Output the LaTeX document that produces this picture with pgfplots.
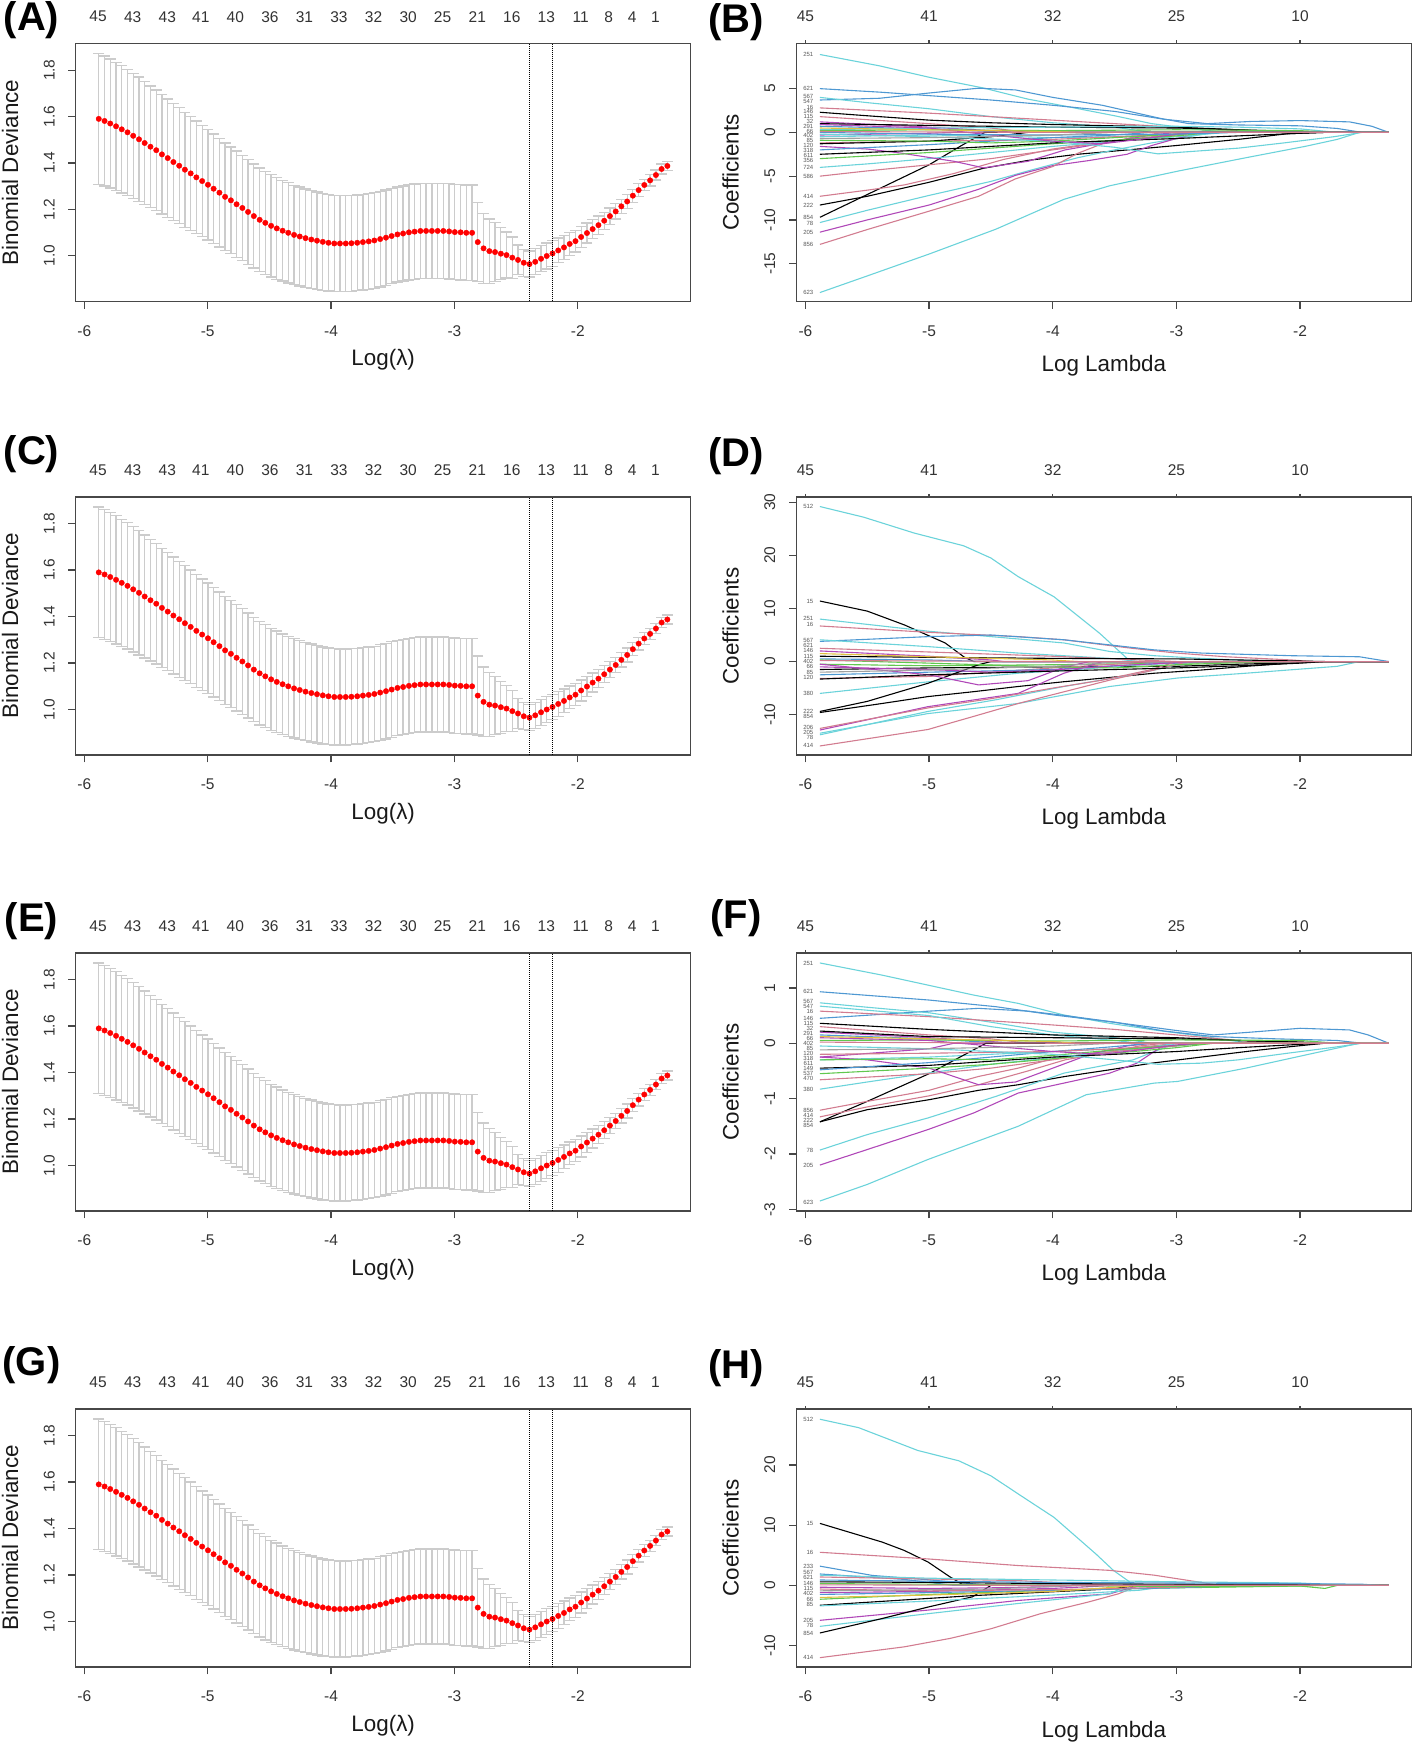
\documentclass[border=0pt]{standalone}
\usepackage{fontspec}
\setmainfont{Liberation Sans}
\usepackage{pgfplots}
\pgfplotsset{compat=1.18}
\usepackage{pgfplotstable}

\definecolor{cK}{HTML}{000000}
\definecolor{cR}{HTML}{D27C90}
\definecolor{cG}{HTML}{61C84F}
\definecolor{cB}{HTML}{4E98D2}
\definecolor{cC}{HTML}{6BD3DA}
\definecolor{cM}{HTML}{B048B8}
\definecolor{cY}{HTML}{E0C040}
\definecolor{cS}{HTML}{A0A0A0}

\newcommand\tickfont{\fontsize{15.5}{18}\selectfont}
\newcommand\labfont{\fontsize{22.4}{26}\selectfont}
\newcommand\letfont{\fontsize{40}{44}\selectfont\bfseries}
\newcommand\coeffont{\fontsize{6}{7}\selectfont}
\tikzset{clab/.style={font=\coeffont, text=black!65, anchor=east, inner sep=0pt}}
\newcommand\coeflabels[1]{%
  \foreach \v/\t in {#1}{\edef\tmp{\noexpand\node[clab] at (axis cs:-5.935,\v) {\t};}\tmp}}

\pgfplotstableread{
x y e
-5.883 1.590 0.282
-5.836 1.581 0.280
-5.790 1.570 0.278
-5.743 1.558 0.276
-5.697 1.545 0.274
-5.650 1.532 0.272
-5.604 1.517 0.270
-5.557 1.502 0.268
-5.511 1.486 0.265
-5.464 1.470 0.262
-5.417 1.455 0.260
-5.371 1.437 0.257
-5.324 1.421 0.255
-5.278 1.404 0.252
-5.231 1.388 0.250
-5.185 1.371 0.248
-5.138 1.355 0.245
-5.092 1.338 0.243
-5.045 1.322 0.240
-4.998 1.306 0.238
-4.952 1.289 0.236
-4.905 1.272 0.234
-4.859 1.254 0.232
-4.812 1.239 0.230
-4.766 1.222 0.229
-4.719 1.206 0.227
-4.673 1.189 0.226
-4.626 1.171 0.224
-4.579 1.155 0.223
-4.533 1.142 0.222
-4.486 1.129 0.220
-4.440 1.118 0.219
-4.393 1.108 0.217
-4.347 1.099 0.216
-4.300 1.090 0.214
-4.254 1.083 0.213
-4.207 1.076 0.212
-4.160 1.070 0.211
-4.114 1.065 0.210
-4.067 1.060 0.209
-4.021 1.056 0.208
-3.974 1.053 0.208
-3.928 1.053 0.207
-3.881 1.053 0.207
-3.835 1.054 0.207
-3.788 1.056 0.206
-3.742 1.059 0.206
-3.695 1.062 0.206
-3.649 1.066 0.206
-3.602 1.072 0.206
-3.555 1.078 0.206
-3.509 1.085 0.206
-3.462 1.092 0.205
-3.416 1.096 0.205
-3.369 1.101 0.205
-3.323 1.104 0.205
-3.276 1.107 0.205
-3.230 1.107 0.205
-3.183 1.107 0.205
-3.136 1.107 0.205
-3.090 1.107 0.205
-3.043 1.105 0.205
-2.997 1.102 0.205
-2.950 1.101 0.205
-2.904 1.099 0.206
-2.857 1.099 0.206
-2.811 1.059 0.170
-2.764 1.032 0.150
-2.717 1.020 0.138
-2.671 1.016 0.126
-2.624 1.009 0.112
-2.578 1.003 0.099
-2.531 0.992 0.089
-2.485 0.982 0.064
-2.438 0.970 0.058
-2.392 0.964 0.056
-2.345 0.974 0.056
-2.298 0.987 0.056
-2.252 0.999 0.056
-2.205 1.010 0.055
-2.159 1.023 0.053
-2.112 1.036 0.051
-2.066 1.051 0.049
-2.019 1.063 0.047
-1.973 1.081 0.045
-1.926 1.098 0.043
-1.880 1.115 0.041
-1.833 1.132 0.039
-1.786 1.151 0.037
-1.740 1.171 0.035
-1.693 1.191 0.033
-1.647 1.213 0.031
-1.600 1.234 0.030
-1.554 1.259 0.028
-1.507 1.283 0.027
-1.461 1.305 0.025
-1.414 1.325 0.024
-1.367 1.348 0.022
-1.321 1.374 0.021
-1.274 1.387 0.019
}\cvtab

\pgfplotsset{
  base/.style={scale only axis, width=615pt, height=258pt, clip mode=individual,
    axis line style={black!72, line width=1.3pt},
    tick style={black!72, line width=1.3pt},
    tick align=outside, major tick length=7.3pt,
    xtick pos=bottom, ytick pos=left,
    /pgf/number format/assume math mode=true,
    ticklabel style={font=\tickfont, text=black!80},
    xticklabel style={anchor=center},
    yticklabel style={rotate=90, anchor=center},
    xticklabel shift=22.2pt, yticklabel shift=19.2pt,
    xtick={-6,-5,-4,-3,-2}, xticklabels={-6,-5,-4,-3,-2},
    every axis y label/.style={at={(axis description cs:0,0.5)}, xshift=-65.7pt, rotate=90, anchor=center, font=\labfont, text=black!90},
  },
  cv/.style={base, xmin=-6.07, xmax=-1.085, ymin=0.803, ymax=1.915,
    ytick={1.0,1.2,1.4,1.6,1.8}, yticklabels={1.0,1.2,1.4,1.6,1.8},
    xlabel={Log(λ)}, ylabel={Binomial Deviance},
    every axis x label/.style={at={(axis description cs:0.5,0)}, anchor=base, yshift=-64.3pt, font=\labfont, text=black!90}},
  co/.style={base, xmin=-6.073, xmax=-1.10, ylabel={Coefficients}, xlabel={Log Lambda},
    every axis x label/.style={at={(axis description cs:0.5,0)}, anchor=base, yshift=-70pt, font=\labfont, text=black!90},
    every axis plot/.append style={line width=1.1pt}},
  top/.style={scale only axis, width=615pt, height=258pt, ymin=0, ymax=1,
    axis x line*=top, axis line style={draw=none}, hide y axis, tick align=outside,
    tick style={black!72, line width=1.3pt},
    ticklabel style={font=\tickfont, text=black!80}, xticklabel style={anchor=center},
    /pgf/number format/assume math mode=true},
  cvtop/.style={top, xmin=-6.07, xmax=-1.085, major tick length=0pt, xticklabel shift=26.8pt,
    xtick={-5.889,-5.608,-5.327,-5.056,-4.776,-4.496,-4.216,-3.936,-3.656,-3.375,-3.096,-2.815,-2.535,-2.255,-1.976,-1.750,-1.560,-1.370},
    xticklabels={45,43,43,41,40,36,31,33,32,30,25,21,16,13,11,8,4,1}},
  cotop/.style={top, xmin=-6.073, xmax=-1.10, major tick length=3pt, xticklabel shift=24pt,
    xtick={-6,-5,-4,-3,-2}, xticklabels={45,41,32,25,10}},
}

\newcommand\cvcontent{%
  \addplot[draw=none, mark=none, forget plot, error bars/.cd, y dir=both, y explicit, error mark=none,
    error bar style={draw=gray!40, line width=1.3pt}]
    table[x=x, y=y, y error=e] {\cvtab};
  \addplot[only marks, mark=-, mark size=5.5pt, mark options={draw=gray!40, line width=1.3pt}, forget plot]
    table[x=x, y expr=\thisrow{y}+\thisrow{e}] {\cvtab};
  \addplot[only marks, mark=-, mark size=5.5pt, mark options={draw=gray!40, line width=1.3pt}, forget plot]
    table[x=x, y expr=\thisrow{y}-\thisrow{e}] {\cvtab};
  \addplot[only marks, mark=*, mark size=2.7pt, mark options={draw=red, fill=red}] table[x=x, y=y] {\cvtab};
  \addplot[black, densely dotted, line width=1pt] coordinates {(-2.392,0.803) (-2.392,1.915)};
  \addplot[black, densely dotted, line width=1pt] coordinates {(-2.205,0.803) (-2.205,1.915)};
}

\begin{document}
\begin{tikzpicture}
\useasboundingbox (0pt,0pt) rectangle (1412pt,1747pt);

% ---------------- left column: cross-validation curves ----------------
\begin{axis}[cv, at={(75.7pt,1445.5pt)}, anchor=south west]\cvcontent\end{axis}
\begin{axis}[cvtop, at={(75.7pt,1445.5pt)}, anchor=south west]\end{axis}
\begin{axis}[cv, at={(75.7pt,992pt)}, anchor=south west]\cvcontent\end{axis}
\begin{axis}[cvtop, at={(75.7pt,992pt)}, anchor=south west]\end{axis}
\begin{axis}[cv, at={(75.7pt,536pt)}, anchor=south west]\cvcontent\end{axis}
\begin{axis}[cvtop, at={(75.7pt,536pt)}, anchor=south west]\end{axis}
\begin{axis}[cv, at={(75.7pt,80pt)}, anchor=south west]\cvcontent\end{axis}
\begin{axis}[cvtop, at={(75.7pt,80pt)}, anchor=south west]\end{axis}

% ---------------- (B) ----------------
\begin{axis}[co, at={(796.4pt,1445.5pt)}, anchor=south west, ymin=-19.32, ymax=10.16,
  ytick={-15,-10,-5,0,5}, yticklabels={-15,-10,-5,0,5}]
\addplot[cC] coordinates {(-5.883,8.9) (-5.4,7.6) (-5.0,6.3) (-4.57,5.1) (-4.2,3.8) (-3.9,3.0) (-3.5,1.9) (-3.2,1.0) (-2.8,0.3) (-2.6,0) (-1.283,0)};
\addplot[cB] coordinates {(-5.883,5.0) (-5.4,4.6) (-5.0,4.2) (-4.5,3.7) (-4.0,3.1) (-3.5,2.4) (-3.1,1.5) (-2.75,1.0) (-2.4,1.25) (-2.0,1.35) (-1.6,1.2) (-1.42,0.7) (-1.283,0)};
\addplot[cB] coordinates {(-5.883,3.7) (-5.4,3.9) (-5.0,4.5) (-4.6,5.05) (-4.3,4.85) (-4.0,4.0) (-3.6,3.1) (-3.13,1.6) (-2.9,1.0) (-2.5,0.85) (-2.0,0.75) (-1.7,0.45) (-1.5,0) (-1.283,0)};
\addplot[cC] coordinates {(-5.883,4.0) (-5.5,3.4) (-5.0,2.7) (-4.5,1.8) (-4.0,1.1) (-3.5,0.6) (-3.2,0) (-1.283,0)};
\addplot[cR] coordinates {(-5.883,2.8) (-5.0,2.2) (-4.0,1.4) (-3.5,1.0) (-3.0,0.6) (-2.5,0.2) (-2.2,0) (-1.283,0)};
\addplot[cK] coordinates {(-5.883,2.3) (-5.5,1.9) (-5.0,1.4) (-4.5,1.1) (-4.0,0.9) (-3.0,0.6) (-2.5,0.3) (-2.0,0) (-1.283,0)};
\addplot[cR] coordinates {(-5.883,1.8) (-5.0,1.0) (-4.5,0.5) (-4.2,0) (-1.283,0)};
\addplot[cM] coordinates {(-5.883,1.2) (-5.0,0.6) (-4.5,0.2) (-4.3,0) (-1.283,0)};
\addplot[cK] coordinates {(-5.883,1.0) (-5.0,0.8) (-4.0,0.6) (-3.0,0.5) (-2.5,0.3) (-2.0,0.1) (-1.8,0) (-1.283,0)};
\addplot[cB] coordinates {(-5.883,0.7) (-5.0,0.4) (-4.5,0.1) (-4.4,0) (-1.283,0)};
\addplot[cC] coordinates {(-5.883,0.3) (-5.0,0.5) (-4.0,0.6) (-3.0,0.7) (-2.5,0.6) (-2.0,0.4) (-1.7,0) (-1.283,0)};
\addplot[cG] coordinates {(-5.883,0.2) (-5.0,0.3) (-4.0,0.2) (-3.0,0.3) (-2.0,0.2) (-1.7,0) (-1.283,0)};
\addplot[cM] coordinates {(-5.883,-0.3) (-5.0,-0.1) (-4.8,0) (-1.283,0)};
\addplot[cC] coordinates {(-5.883,-0.5) (-5.0,-0.3) (-4.5,-0.4) (-4.0,-0.6) (-3.5,-0.5) (-3.0,-0.2) (-2.8,0) (-1.283,0)};
\addplot[cK] coordinates {(-5.883,-9.7) (-5.5,-7.1) (-5.0,-3.7) (-4.75,-1.6) (-4.55,0) (-1.283,0)};
\addplot[cK] coordinates {(-5.883,-8.3) (-5.5,-7.3) (-5.0,-5.7) (-4.56,-4.1) (-4.2,-3.2) (-3.8,-2.5) (-3.37,-1.97) (-3.0,-1.5) (-2.5,-0.8) (-2.1,-0.15) (-1.8,0) (-1.283,0)};
\addplot[cR] coordinates {(-5.883,-7.3) (-5.5,-6.6) (-5.2,-6.0) (-4.8,-4.7) (-4.4,-3.1) (-4.0,-1.9) (-3.6,-1.1) (-3.2,-0.5) (-2.9,0) (-1.283,0)};
\addplot[cC] coordinates {(-5.883,-10.3) (-5.5,-8.9) (-5.0,-7.2) (-4.5,-5.6) (-4.2,-4.4) (-3.8,-2.9) (-3.5,-2.0) (-3.2,-1.2) (-2.9,-0.5) (-2.7,0) (-1.283,0)};
\addplot[cM] coordinates {(-5.883,-11.4) (-5.5,-10.0) (-5.0,-8.3) (-4.6,-6.5) (-4.3,-4.9) (-4.0,-3.8) (-3.7,-3.2) (-3.4,-2.5) (-3.2,-1.5) (-3.0,-0.7) (-2.8,0) (-1.283,0)};
\addplot[cR] coordinates {(-5.883,-12.8) (-5.5,-11.1) (-5.0,-9.0) (-4.6,-7.3) (-4.3,-5.3) (-4.0,-3.9) (-3.8,-2.4) (-3.6,-1.3) (-3.3,-0.4) (-3.1,0) (-1.283,0)};
\addplot[cC] coordinates {(-5.883,-18.3) (-5.5,-16.4) (-5.0,-13.9) (-4.46,-11.06) (-3.91,-7.65) (-3.54,-6.1) (-2.99,-4.43) (-2.44,-2.9) (-1.96,-1.6) (-1.7,-0.8) (-1.52,0) (-1.283,0)};
\addplot[cR] coordinates {(-5.883,-5.0) (-5.5,-4.4) (-5.0,-3.7) (-4.5,-3.0) (-4.0,-2.0) (-3.5,-1.0) (-3.0,-0.3) (-2.8,0) (-1.283,0)};
\addplot[cC] coordinates {(-5.883,-4.0) (-5.5,-3.6) (-5.0,-3.0) (-4.5,-2.3) (-4.0,-1.6) (-3.5,-1.0) (-3.0,-0.5) (-2.6,0) (-1.283,0)};
\addplot[cM] coordinates {(-5.883,-1.6) (-5.5,-1.9) (-5.235,-2.35) (-4.8,-3.3) (-4.56,-4.05) (-4.2,-3.3) (-3.9,-2.0) (-3.5,-1.0) (-3.2,-0.3) (-3.0,0) (-1.283,0)};
\addplot[cG] coordinates {(-5.883,-3.0) (-5.0,-2.3) (-4.5,-1.8) (-4.0,-1.3) (-3.5,-0.9) (-3.0,-0.4) (-2.7,0) (-1.283,0)};
\addplot[cK] coordinates {(-5.883,-2.5) (-5.0,-2.0) (-4.0,-1.2) (-3.0,-0.7) (-2.5,-0.4) (-2.0,-0.1) (-1.8,0) (-1.283,0)};
\addplot[cB] coordinates {(-5.883,-2.0) (-5.0,-1.4) (-4.5,-1.0) (-4.0,-0.6) (-3.5,-0.3) (-3.2,0) (-1.283,0)};
\addplot[cR] coordinates {(-5.883,-1.2) (-5.0,-1.0) (-4.0,-0.8) (-3.5,-0.5) (-3.0,-0.2) (-2.8,0) (-1.283,0)};
\addplot[cK] coordinates {(-5.883,-1.3) (-5.0,-1.0) (-4.5,-0.5) (-4.2,0) (-1.283,0)};
\addplot[cG] coordinates {(-5.883,-0.9) (-5.0,-1.0) (-4.5,-1.2) (-4.0,-1.0) (-3.5,-0.6) (-3.0,-0.2) (-2.7,0) (-1.283,0)};
\addplot[cC] coordinates {(-5.883,-0.2) (-5.0,-0.5) (-4.0,-1.0) (-3.5,-1.7) (-3.15,-2.45) (-2.5,-1.8) (-2.13,-1.2) (-1.73,-0.5) (-1.5,0) (-1.283,0)};
\addplot[cM] coordinates {(-5.883,0.9) (-5.0,0.5) (-4.5,-0.3) (-4.0,-1.0) (-3.6,-1.3) (-3.3,-0.8) (-3.0,-0.2) (-2.8,0) (-1.283,0)};
\addplot[cB] coordinates {(-5.883,0.0) (-5.0,-0.2) (-4.0,-0.3) (-3.0,-0.2) (-2.5,0) (-1.283,0)};
\addplot[cY] coordinates {(-5.883,0.5) (-5.0,0.3) (-4.0,0.1) (-3.8,0) (-1.283,0)};
\addplot[cS] coordinates {(-5.883,-0.7) (-5.0,-0.6) (-4.0,-0.3) (-3.5,0) (-1.283,0)};
\addplot[cR] coordinates {(-5.883,0.1) (-5.0,0.05) (-4.0,0) (-1.283,0)};
\coeflabels{8.9/251,5.0/621,4.1/567,3.55/547,2.9/16,2.35/146,1.8/115,1.25/32,0.7/291,0.15/66,-0.4/402,-0.95/85,-1.5/120,-2.05/318,-2.6/611,-3.15/356,-4.0/724,-5.0/586,-7.3/414,-8.3/222,-9.75/854,-10.35/78,-11.4/205,-12.8/856,-18.3/623}
\end{axis}
\begin{axis}[cotop, at={(796.4pt,1445.5pt)}, anchor=south west]\end{axis}

% ---------------- (D) ----------------
\begin{axis}[co, at={(796.4pt,992pt)}, anchor=south west, ymin=-17.6, ymax=31.0,
  ytick={-10,0,10,20,30}, yticklabels={-10,0,10,20,30}]
\addplot[cC] coordinates {(-5.883,29.2) (-5.53,27.2) (-5.12,24.2) (-4.72,21.8) (-4.5,19.5) (-4.28,16.0) (-3.99,12.2) (-3.62,5.3) (-3.4,0.6) (-3.36,0) (-1.283,0)};
\addplot[cK] coordinates {(-5.883,11.4) (-5.5,9.5) (-5.2,6.9) (-4.87,3.5) (-4.72,0.9) (-4.64,0) (-1.283,0)};
\addplot[cC] coordinates {(-5.883,8.0) (-5.0,5.7) (-4.5,4.7) (-3.91,3.5) (-3.54,1.9) (-3.18,1.1) (-2.8,0.6) (-2.4,0.2) (-2.2,0) (-1.283,0)};
\addplot[cR] coordinates {(-5.883,6.7) (-5.0,5.5) (-4.28,4.7) (-3.91,4.1) (-3.36,2.5) (-3.0,1.6) (-2.6,0.9) (-2.07,0.3) (-1.9,0) (-1.283,0)};
\addplot[cB] coordinates {(-5.883,3.8) (-5.0,4.7) (-4.5,5.0) (-3.91,4.1) (-3.18,2.2) (-2.8,1.6) (-2.07,1.1) (-1.52,0.9) (-1.283,0)};
\addplot[cC] coordinates {(-5.883,4.1) (-5.0,2.8) (-4.28,1.6) (-3.54,0.6) (-3.3,0) (-1.283,0)};
\addplot[cR] coordinates {(-5.883,2.5) (-5.0,1.8) (-4.0,1.0) (-3.5,0.5) (-3.0,0) (-1.283,0)};
\addplot[cM] coordinates {(-5.883,2.0) (-5.0,1.0) (-4.5,0.3) (-4.4,0) (-1.283,0)};
\addplot[cK] coordinates {(-5.883,1.0) (-5.0,0.8) (-4.0,0.6) (-3.0,0.5) (-2.5,0.3) (-2.0,0.1) (-1.8,0) (-1.283,0)};
\addplot[cB] coordinates {(-5.883,0.5) (-5.0,0.3) (-4.5,0) (-1.283,0)};
\addplot[cG] coordinates {(-5.883,-0.5) (-5.0,-0.8) (-4.0,-0.6) (-3.0,-0.3) (-2.0,-0.1) (-1.7,0) (-1.283,0)};
\addplot[cK] coordinates {(-5.883,-1.5) (-5.0,-1.2) (-4.0,-1.0) (-3.0,-0.9) (-2.5,-0.5) (-2.0,-0.2) (-1.7,0) (-1.283,0)};
\addplot[cR] coordinates {(-5.883,-3.2) (-5.0,-2.8) (-4.5,-2.0) (-4.0,-1.2) (-3.5,-0.5) (-3.2,0) (-1.283,0)};
\addplot[cB] coordinates {(-5.883,-2.5) (-5.0,-2.0) (-4.0,-1.5) (-3.5,-0.8) (-3.0,-0.3) (-2.7,0) (-1.283,0)};
\addplot[cC] coordinates {(-5.883,-6.0) (-5.0,-3.8) (-4.28,-2.2) (-3.8,-1.5) (-3.3,-0.6) (-3.0,0) (-1.283,0)};
\addplot[cK] coordinates {(-5.883,-9.6) (-5.38,-7.9) (-5.01,-6.6) (-4.65,-5.7) (-4.28,-4.7) (-3.91,-3.8) (-3.54,-3.0) (-3.18,-2.2) (-2.8,-1.6) (-2.44,-0.9) (-2.07,-0.3) (-1.9,0) (-1.283,0)};
\addplot[cK] coordinates {(-5.883,-9.4) (-5.5,-7.5) (-5.01,-4.1) (-4.6,-0.6) (-4.5,0) (-1.283,0)};
\addplot[cM] coordinates {(-5.883,-12.9) (-5.01,-8.5) (-4.28,-6.0) (-3.91,-2.2) (-3.72,-0.9) (-3.6,0) (-1.283,0)};
\addplot[cC] coordinates {(-5.883,-13.8) (-5.01,-9.4) (-4.46,-7.2) (-3.91,-4.7) (-3.36,-2.5) (-3.1,-1.2) (-2.9,0) (-1.283,0)};
\addplot[cC] coordinates {(-5.883,-13.5) (-5.01,-9.8) (-4.28,-7.9) (-3.54,-4.7) (-2.99,-3.1) (-2.44,-2.2) (-1.7,-0.9) (-1.52,0) (-1.283,0)};
\addplot[cR] coordinates {(-5.883,-15.9) (-5.01,-12.8) (-4.65,-10.4) (-4.28,-7.9) (-3.91,-5.7) (-3.54,-3.5) (-3.18,-1.6) (-2.9,0) (-1.283,0)};
\addplot[cM] coordinates {(-5.883,-0.5) (-5.0,-2.5) (-4.6,-4.4) (-4.2,-3.6) (-3.9,-1.0) (-3.7,0) (-1.283,0)};
\addplot[cR] coordinates {(-5.883,-12.6) (-5.0,-8.7) (-4.5,-7.0) (-4.0,-5.0) (-3.6,-3.5) (-3.2,-1.5) (-3.0,0) (-1.283,0)};
\addplot[cG] coordinates {(-5.883,0.3) (-5.0,-0.3) (-4.0,-1.0) (-3.5,-1.2) (-3.0,-0.6) (-2.5,-0.2) (-2.2,0) (-1.283,0)};
\addplot[cM] coordinates {(-5.883,-1.0) (-5.0,-1.5) (-4.5,-2.0) (-4.0,-1.6) (-3.5,-0.8) (-3.0,-0.2) (-2.8,0) (-1.283,0)};
\addplot[cY] coordinates {(-5.883,1.5) (-5.0,0.9) (-4.0,0.3) (-3.8,0) (-1.283,0)};
\addplot[cS] coordinates {(-5.883,-2.0) (-5.0,-1.6) (-4.0,-0.9) (-3.4,0) (-1.283,0)};
\addplot[cK] coordinates {(-5.883,-3.3) (-5.0,-2.5) (-4.0,-1.8) (-3.0,-1.2) (-2.5,-0.8) (-2.0,-0.3) (-1.8,0) (-1.283,0)};
\addplot[cR] coordinates {(-5.883,0.2) (-4.0,0) (-1.283,0)};
\coeflabels{29.2/512,11.4/15,8.1/251,7.0/16,4.0/567,3.0/621,2.0/146,1.0/115,0/402,-1.0/66,-2.0/85,-3.0/120,-6.0/380,-9.4/222,-10.4/854,-12.5/206,-13.4/205,-14.3/78,-15.8/414}
\end{axis}
\begin{axis}[cotop, at={(796.4pt,992pt)}, anchor=south west]\end{axis}

% ---------------- (F) ----------------
\begin{axis}[co, at={(796.4pt,536pt)}, anchor=south west, ymin=-3.03, ymax=1.63,
  ytick={-3,-2,-1,0,1}, yticklabels={-3,-2,-1,0,1}]
\addplot[cC] coordinates {(-5.883,1.45) (-5.38,1.23) (-5.01,1.05) (-4.64,0.87) (-4.28,0.72) (-3.91,0.51) (-3.54,0.36) (-3.18,0.24) (-2.8,0.13) (-2.6,0.06) (-2.4,0) (-1.283,0)};
\addplot[cB] coordinates {(-5.883,0.93) (-5.0,0.78) (-4.46,0.66) (-3.99,0.51) (-3.54,0.39) (-3.0,0.23) (-2.7,0.15) (-2.4,0.2) (-2.0,0.27) (-1.6,0.24) (-1.45,0.15) (-1.283,0)};
\addplot[cB] coordinates {(-5.883,0.45) (-5.4,0.52) (-5.0,0.58) (-4.6,0.63) (-4.2,0.58) (-3.9,0.5) (-3.5,0.38) (-3.1,0.22) (-2.7,0.12) (-2.2,0.08) (-1.7,0.05) (-1.5,0) (-1.283,0)};
\addplot[cC] coordinates {(-5.883,0.73) (-5.5,0.65) (-5.0,0.55) (-4.5,0.38) (-4.0,0.2) (-3.5,0.1) (-3.2,0) (-1.283,0)};
\addplot[cR] coordinates {(-5.883,0.58) (-5.0,0.48) (-4.0,0.33) (-3.5,0.25) (-3.0,0.15) (-2.5,0.05) (-2.2,0) (-1.283,0)};
\addplot[cC] coordinates {(-5.883,0.67) (-5.0,0.5) (-4.5,0.3) (-4.0,0.15) (-3.5,0.05) (-3.3,0) (-1.283,0)};
\addplot[cK] coordinates {(-5.883,0.36) (-5.0,0.25) (-4.0,0.15) (-3.0,0.1) (-2.5,0.05) (-2.0,0.02) (-1.8,0) (-1.283,0)};
\addplot[cR] coordinates {(-5.883,0.3) (-5.0,0.15) (-4.5,0.08) (-4.2,0) (-1.283,0)};
\addplot[cM] coordinates {(-5.883,0.2) (-5.0,0.1) (-4.5,0.03) (-4.3,0) (-1.283,0)};
\addplot[cK] coordinates {(-5.883,0.22) (-5.0,0.12) (-4.0,0.1) (-3.0,0.08) (-2.0,0.02) (-1.8,0) (-1.283,0)};
\addplot[cB] coordinates {(-5.883,0.15) (-5.0,0.08) (-4.4,0) (-1.283,0)};
\addplot[cG] coordinates {(-5.883,0.05) (-5.0,0.06) (-4.0,0.04) (-3.0,0.06) (-2.0,0.05) (-1.7,0) (-1.283,0)};
\addplot[cM] coordinates {(-5.883,-0.25) (-5.0,-0.1) (-4.8,0) (-1.283,0)};
\addplot[cC] coordinates {(-5.883,-0.3) (-5.0,-0.25) (-4.5,-0.2) (-4.0,-0.15) (-3.5,-0.1) (-3.0,-0.05) (-2.8,0) (-1.283,0)};
\addplot[cK] coordinates {(-5.883,-1.42) (-5.5,-1.05) (-5.0,-0.55) (-4.75,-0.25) (-4.54,0) (-1.283,0)};
\addplot[cK] coordinates {(-5.883,-1.42) (-5.5,-1.2) (-5.0,-1.02) (-4.6,-0.85) (-4.28,-0.75) (-3.9,-0.6) (-3.54,-0.48) (-3.2,-0.36) (-2.8,-0.25) (-2.4,-0.14) (-2.07,-0.06) (-1.8,0) (-1.283,0)};
\addplot[cR] coordinates {(-5.883,-1.21) (-5.5,-1.05) (-5.0,-0.85) (-4.6,-0.6) (-4.28,-0.45) (-4.0,-0.28) (-3.6,-0.15) (-3.2,-0.05) (-3.0,0) (-1.283,0)};
\addplot[cR] coordinates {(-5.883,-1.33) (-5.5,-1.15) (-5.0,-0.95) (-4.6,-0.75) (-4.2,-0.5) (-3.9,-0.3) (-3.6,-0.18) (-3.3,-0.05) (-3.1,0) (-1.283,0)};
\addplot[cC] coordinates {(-5.883,-1.93) (-5.5,-1.65) (-5.01,-1.35) (-4.46,-0.96) (-3.91,-0.54) (-3.35,-0.3) (-3.18,-0.15) (-3.0,0) (-1.283,0)};
\addplot[cM] coordinates {(-5.883,-2.2) (-5.5,-1.92) (-5.01,-1.56) (-4.64,-1.26) (-4.28,-0.9) (-3.91,-0.72) (-3.54,-0.54) (-3.32,-0.36) (-3.18,-0.15) (-3.07,0) (-1.283,0)};
\addplot[cC] coordinates {(-5.883,-2.85) (-5.5,-2.55) (-5.01,-2.1) (-4.28,-1.5) (-3.73,-0.93) (-3.18,-0.72) (-2.99,-0.69) (-2.44,-0.45) (-1.89,-0.18) (-1.52,0) (-1.283,0)};
\addplot[cC] coordinates {(-5.883,-0.83) (-5.5,-0.7) (-5.01,-0.54) (-4.5,-0.38) (-3.91,-0.24) (-3.5,-0.15) (-3.18,-0.06) (-3.0,0) (-1.283,0)};
\addplot[cR] coordinates {(-5.883,-0.66) (-5.0,-0.55) (-4.5,-0.45) (-4.0,-0.3) (-3.5,-0.15) (-3.0,-0.05) (-2.8,0) (-1.283,0)};
\addplot[cM] coordinates {(-5.883,-0.25) (-5.5,-0.3) (-5.0,-0.45) (-4.6,-0.75) (-4.3,-0.7) (-4.0,-0.45) (-3.7,-0.2) (-3.4,-0.05) (-3.2,0) (-1.283,0)};
\addplot[cG] coordinates {(-5.883,-0.55) (-5.0,-0.45) (-4.5,-0.38) (-4.0,-0.28) (-3.5,-0.18) (-3.0,-0.08) (-2.7,0) (-1.283,0)};
\addplot[cK] coordinates {(-5.883,-0.45) (-5.0,-0.4) (-4.0,-0.25) (-3.0,-0.15) (-2.5,-0.08) (-2.0,-0.02) (-1.8,0) (-1.283,0)};
\addplot[cB] coordinates {(-5.883,-0.48) (-5.0,-0.35) (-4.5,-0.25) (-4.0,-0.15) (-3.5,-0.06) (-3.2,0) (-1.283,0)};
\addplot[cR] coordinates {(-5.883,-0.2) (-5.0,-0.18) (-4.0,-0.15) (-3.5,-0.1) (-3.0,-0.04) (-2.8,0) (-1.283,0)};
\addplot[cG] coordinates {(-5.883,-0.3) (-5.0,-0.28) (-4.5,-0.3) (-4.0,-0.22) (-3.5,-0.12) (-3.0,-0.04) (-2.7,0) (-1.283,0)};
\addplot[cC] coordinates {(-5.883,-0.05) (-5.0,-0.1) (-4.0,-0.2) (-3.5,-0.3) (-3.15,-0.38) (-2.8,-0.36) (-2.5,-0.3) (-2.1,-0.18) (-1.75,-0.08) (-1.5,0) (-1.283,0)};
\addplot[cM] coordinates {(-5.883,0.1) (-5.0,0.05) (-4.5,-0.05) (-4.0,-0.15) (-3.6,-0.2) (-3.3,-0.12) (-3.0,-0.03) (-2.8,0) (-1.283,0)};
\addplot[cY] coordinates {(-5.883,0.12) (-5.0,0.08) (-4.0,0.03) (-3.8,0) (-1.283,0)};
\addplot[cS] coordinates {(-5.883,-0.12) (-5.0,-0.1) (-4.0,-0.05) (-3.5,0) (-1.283,0)};
\addplot[cR] coordinates {(-5.883,0.02) (-4.0,0) (-1.283,0)};
\coeflabels{1.45/251,0.93/621,0.76/567,0.67/547,0.58/16,0.45/146,0.36/115,0.27/32,0.18/291,0.09/66,0/402,-0.09/85,-0.18/120,-0.27/318,-0.36/611,-0.45/149,-0.54/537,-0.63/470,-0.84/380,-1.22/856,-1.31/414,-1.40/222,-1.49/854,-1.93/78,-2.21/205,-2.87/623}
\end{axis}
\begin{axis}[cotop, at={(796.4pt,536pt)}, anchor=south west]\end{axis}

% ---------------- (H) ----------------
\begin{axis}[co, at={(796.4pt,80pt)}, anchor=south west, ymin=-13.55, ymax=29.3,
  ytick={-10,0,10,20}, yticklabels={-10,0,10,20}]
\addplot[cC] coordinates {(-5.883,27.6) (-5.57,26.2) (-5.09,22.4) (-4.76,20.7) (-4.5,18.2) (-4.28,15.2) (-3.99,11.3) (-3.65,5.2) (-3.51,2.5) (-3.38,0.6) (-3.36,0) (-1.283,0)};
\addplot[cK] coordinates {(-5.883,10.3) (-5.38,7.2) (-5.2,5.8) (-5.01,3.9) (-4.83,1.4) (-4.76,0.55) (-4.72,0) (-1.283,0)};
\addplot[cR] coordinates {(-5.883,5.5) (-5.01,4.4) (-4.28,3.3) (-3.54,2.5) (-3.18,1.7) (-2.99,1.1) (-2.8,0.5) (-2.65,0) (-1.283,0)};
\addplot[cB] coordinates {(-5.883,3.2) (-5.46,1.66) (-5.01,0.94) (-4.5,0) (-1.283,0)};
\addplot[cB] coordinates {(-5.883,1.9) (-5.2,1.0) (-4.8,0) (-1.283,0)};
\addplot[cR] coordinates {(-5.883,1.4) (-4.28,0.8) (-3.5,0) (-1.283,0)};
\addplot[cC] coordinates {(-5.883,1.7) (-5.0,1.2) (-4.0,0.9) (-3.0,0.6) (-2.0,0.4) (-1.6,0) (-1.283,0)};
\addplot[cM] coordinates {(-5.883,-5.8) (-5.01,-4.1) (-4.28,-2.5) (-3.54,-1.4) (-3.3,0) (-1.283,0)};
\addplot[cC] coordinates {(-5.883,-6.8) (-5.01,-4.7) (-4.28,-3.0) (-3.54,-1.4) (-3.4,0) (-1.283,0)};
\addplot[cK] coordinates {(-5.883,-7.9) (-5.38,-5.5) (-5.01,-3.6) (-4.65,-1.9) (-4.5,0) (-1.283,0)};
\addplot[cR] coordinates {(-5.883,-12.0) (-5.2,-10.2) (-4.83,-8.8) (-4.5,-7.2) (-4.1,-4.7) (-3.72,-2.8) (-3.47,-1.4) (-3.3,0) (-1.283,0)};
\addplot[cK] coordinates {(-5.883,-3.3) (-4.65,-1.7) (-3.54,-0.6) (-3.3,0) (-1.283,0)};
\addplot[cC] coordinates {(-5.883,-3.4) (-5.0,-2.6) (-4.0,-1.6) (-3.3,-0.8) (-3.0,0) (-1.283,0)};
\addplot[cG] coordinates {(-5.883,-2.3) (-5.0,-1.5) (-4.0,-0.8) (-3.0,-0.4) (-2.0,-0.1) (-1.8,-0.5) (-1.7,0) (-1.283,0)};
\addplot[cM] coordinates {(-5.883,-1.2) (-5.0,-1.0) (-4.0,-0.5) (-3.5,0) (-1.283,0)};
\addplot[cB] coordinates {(-5.883,-1.5) (-5.0,-1.2) (-4.0,-0.8) (-3.0,-0.4) (-2.5,0) (-1.283,0)};
\addplot[cK] coordinates {(-5.883,0.6) (-5.0,0.5) (-4.0,0.3) (-3.0,0.2) (-2.0,0.1) (-1.8,0) (-1.283,0)};
\addplot[cB] coordinates {(-5.883,0.9) (-5.0,0.7) (-4.0,0.5) (-3.0,0.4) (-2.0,0.3) (-1.5,0.2) (-1.35,0) (-1.283,0)};
\addplot[cR] coordinates {(-5.883,-0.6) (-5.0,-0.9) (-4.0,-0.7) (-3.0,-0.3) (-2.5,0) (-1.283,0)};
\addplot[cM] coordinates {(-5.883,-0.3) (-5.0,-0.5) (-4.5,-0.4) (-4.0,-0.2) (-3.8,0) (-1.283,0)};
\addplot[cG] coordinates {(-5.883,0.3) (-5.0,0.2) (-4.0,0.0) (-3.0,-0.2) (-2.0,-0.1) (-1.8,0) (-1.283,0)};
\addplot[cY] coordinates {(-5.883,-2.0) (-5.0,-1.6) (-4.0,-1.0) (-3.5,-0.3) (-3.3,0) (-1.283,0)};
\addplot[cS] coordinates {(-5.883,-0.9) (-4.5,-0.6) (-3.8,0) (-1.283,0)};
\addplot[cR] coordinates {(-5.883,0.1) (-4.0,0) (-1.283,0)};
\coeflabels{27.6/512,10.3/15,5.5/16,3.2/233,2.2/567,1.3/621,0.4/146,-0.5/115,-1.4/402,-2.3/66,-3.2/85,-5.8/205,-6.7/78,-7.9/854,-12.0/414}
\end{axis}
\begin{axis}[cotop, at={(796.4pt,80pt)}, anchor=south west]\end{axis}

% ---------------- panel letters ----------------
\node[font=\letfont, inner sep=0pt] at (31.5pt,1727pt) {(A)};
\node[font=\letfont, inner sep=0pt] at (736pt,1725pt) {(B)};
\node[font=\letfont, inner sep=0pt] at (31.5pt,1293pt) {(C)};
\node[font=\letfont, inner sep=0pt] at (736pt,1291pt) {(D)};
\node[font=\letfont, inner sep=0pt] at (31.5pt,826pt) {(E)};
\node[font=\letfont, inner sep=0pt] at (736pt,829pt) {(F)};
\node[font=\letfont, inner sep=0pt] at (31.5pt,382pt) {(G)};
\node[font=\letfont, inner sep=0pt] at (736pt,379pt) {(H)};
\end{tikzpicture}
\end{document}
